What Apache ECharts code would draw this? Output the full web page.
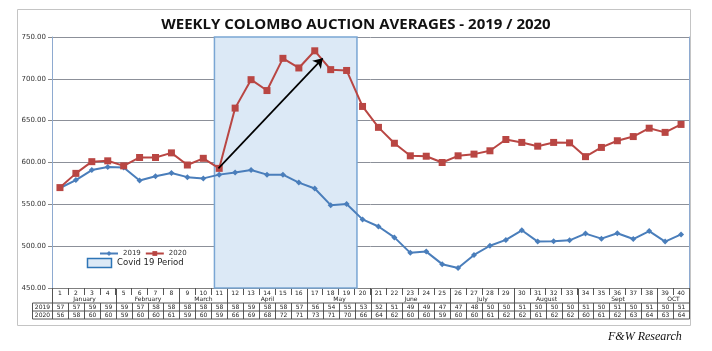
<!DOCTYPE html>
<html>
<head>
<meta charset="utf-8">
<script src="https://cdn.jsdelivr.net/npm/echarts@6/dist/echarts.min.js"></script>
<style>
html, body { margin: 0; padding: 0; background: #fff; }
#main { width: 712px; height: 351px; }
</style>
</head>
<body>
<div id="main"></div>
<script>
var weeks = ['1','2','3','4','5','6','7','8','9','10','11','12','13','14','15','16','17','18','19','20',
    '21','22','23','24','25','26','27','28','29','30','31','32','33','34','35','36','37','38','39','40'];

var avg2019 = [569.5, 579, 591, 594.5, 594, 578.5, 583.5, 587.5, 582.5, 581,
    585.5, 588, 591, 585.5, 585.5, 576, 569, 549, 550.5, 532,
    523.5, 510.5, 492, 493.5, 478.5, 474, 489.5, 500.5, 507.5, 519,
    505.5, 506, 507, 515, 509, 515.5, 508.5, 518, 505.5, 514];

var avg2020 = [570, 587, 601, 602, 596, 606, 606, 611.5, 597, 605,
    593, 665, 699, 686, 724.5, 713, 733.5, 711, 710, 667,
    642, 623, 608, 607.5, 600, 608, 610, 614, 627.5, 624,
    619.5, 624, 623.5, 607, 618, 626, 631, 641, 636, 645.5];

var months = ['January', 'February', 'March', 'April', 'May', 'June', 'July', 'August', 'Sept', 'OCT'];
var monthWeeks = [4, 4, 3, 5, 4, 5, 4, 4, 5, 2];

var table2019 = [57,57,59,59,59,57,58,58,58,58,58,58,59,58,58,57,56,54,55,53,
    52,51,49,49,47,47,48,50,50,51,50,50,50,51,50,51,50,51,50,51];
var table2020 = [56,58,60,60,59,60,60,61,59,60,59,66,69,68,72,71,73,71,70,66,
    64,62,60,60,59,60,60,61,62,62,61,62,62,60,61,62,63,64,63,64];

// covid shading and arrow, in week units (0 = left edge of week 1)
var covidSpan = [10.2, 19.15];
var arrowFrom = [10.45, 593];
var arrowTo = [17.0, 724.5];

var blue = '#4a7ebb';
var red = '#b94643';
var font = 'DejaVu Sans';

var chart = echarts.init(document.getElementById('main'));

var option = {
    animation: false,
    title: {
        text: 'WEEKLY COLOMBO AUCTION AVERAGES - 2019 / 2020',
        left: 'center',
        top: 12,
        textStyle: { fontFamily: 'Open Sans', fontWeight: 'bold', fontSize: 15, color: '#111' }
    },
    legend: {
        data: ['2019', '2020'],
        left: 94,
        top: 245,
        itemWidth: 18,
        itemHeight: 6,
        itemGap: 4,
        textStyle: { fontFamily: font, fontSize: 7, color: '#333' }
    },
    grid: { left: 52, right: 23, top: 37, bottom: 63 },
    xAxis: [{
        type: 'category',
        data: weeks,
        boundaryGap: true,
        axisLine: { lineStyle: { color: '#7f7f7f' } },
        axisTick: { show: true, length: 7, lineStyle: { color: '#555' } },
        axisLabel: { interval: 0, fontSize: 6, margin: 2, color: '#222', fontFamily: font },
        splitLine: { show: false }
    }, {
        type: 'value',
        min: 0,
        max: 40,
        show: false
    }],
    yAxis: [{
        type: 'value',
        min: 450,
        max: 750,
        interval: 50,
        axisLine: { show: true, lineStyle: { color: '#8eaad0' } },
        axisTick: { show: true, length: 4, lineStyle: { color: '#888' } },
        axisLabel: {
            fontSize: 7, margin: 6, color: '#333', fontFamily: font,
            formatter: function (v) { return v.toFixed(2); }
        },
        splitLine: { lineStyle: { color: '#8c9099' } }
    }, {
        type: 'value',
        position: 'right',
        min: 450,
        max: 750,
        interval: 50,
        axisLine: { show: true, lineStyle: { color: '#8eaad0' } },
        axisTick: { show: false },
        axisLabel: { show: false },
        splitLine: { show: false }
    }],
    series: [{
        name: 'covid',
        type: 'line',
        xAxisIndex: 1,
        data: [],
        z: 1,
        markArea: {
            silent: true,
            itemStyle: { color: '#dce9f6', borderColor: '#7aa6d4', borderWidth: 1.5 },
            data: [[{ coord: [covidSpan[0], 750] }, { coord: [covidSpan[1], 450] }]]
        },
        markLine: {
            silent: true,
            symbol: ['none', 'arrow'],
            symbolSize: 9,
            label: { show: false },
            lineStyle: { color: '#000', width: 1.7, type: 'solid' },
            data: [[{ coord: arrowFrom }, { coord: arrowTo }]]
        }
    }, {
        name: '2019',
        type: 'line',
        data: avg2019,
        symbol: 'diamond',
        symbolSize: 6,
        z: 3,
        lineStyle: { color: blue, width: 2 },
        itemStyle: { color: blue }
    }, {
        name: '2020',
        type: 'line',
        data: avg2020,
        symbol: 'rect',
        symbolSize: 7,
        z: 4,
        lineStyle: { color: red, width: 2 },
        itemStyle: { color: red }
    }]
};

chart.setOption(option);

// data table under the plot, placed from the axis scale
var yB = Math.round(chart.convertToPixel({ yAxisIndex: 0 }, 450));
var bx = function (i) { return Math.round(chart.convertToPixel({ xAxisIndex: 1 }, i)) + 0.5; };
var row1 = yB + 15, row2 = yB + 23, row3 = yB + 31, headLeft = 32.5;
var lineStyle = { stroke: '#555', lineWidth: 1 };
var g = [];

var addLine = function (x1, y1, x2, y2) {
    g.push({ type: 'line', shape: { x1: x1, y1: y1, x2: x2, y2: y2 }, style: lineStyle, silent: true });
};
var addText = function (t, x, y, size) {
    g.push({
        type: 'text', x: x, y: y, silent: true,
        style: { text: t, fill: '#222', font: (size || 6) + 'px "DejaVu Sans"', textAlign: 'center', textVerticalAlign: 'middle' }
    });
};

// month row
var start = 0;
addLine(bx(0), yB, bx(0), row3);
months.forEach(function (m, k) {
    var end = start + monthWeeks[k];
    addText(m, (bx(start) + bx(end)) / 2, yB + 11.5);
    addLine(bx(end), yB, bx(end), row1);
    start = end;
});

// value rows
addLine(headLeft, row1, bx(40), row1);
addLine(headLeft, row2, bx(40), row2);
addLine(headLeft, row3, bx(40), row3);
addLine(headLeft, row1, headLeft, row3);
for (var i = 0; i <= 40; i++) {
    addLine(bx(i), row1, bx(i), row3);
}
addText('2019', (headLeft + bx(0)) / 2, row1 + 4);
addText('2020', (headLeft + bx(0)) / 2, row2 + 4);
table2019.forEach(function (v, i) { addText(String(v), (bx(i) + bx(i + 1)) / 2, row1 + 4); });
table2020.forEach(function (v, i) { addText(String(v), (bx(i) + bx(i + 1)) / 2, row2 + 4); });

// covid key in the legend area
g.push({
    type: 'rect', silent: true, shape: { x: 87.5, y: 258.5, width: 24, height: 9 },
    style: { fill: '#dce9f6', stroke: '#2e75b6', lineWidth: 1.5 }
});
g.push({
    type: 'text', x: 117, y: 263, silent: true,
    style: { text: 'Covid 19 Period', fill: '#222', font: '8.5px "DejaVu Sans"', textVerticalAlign: 'middle' }
});

// outer frame and source note
g.push({
    type: 'rect', silent: true, z: -10, shape: { x: 17.5, y: 9.5, width: 673, height: 316 },
    style: { fill: 'none', stroke: '#c4c4c4', lineWidth: 1 }
});
g.push({
    type: 'text', x: 608, y: 337, silent: true,
    style: { text: 'F&W Research', fill: '#111', font: 'italic 12px "Liberation Serif"', textVerticalAlign: 'middle' }
});

chart.setOption({ graphic: g });
</script>
</body>
</html>
